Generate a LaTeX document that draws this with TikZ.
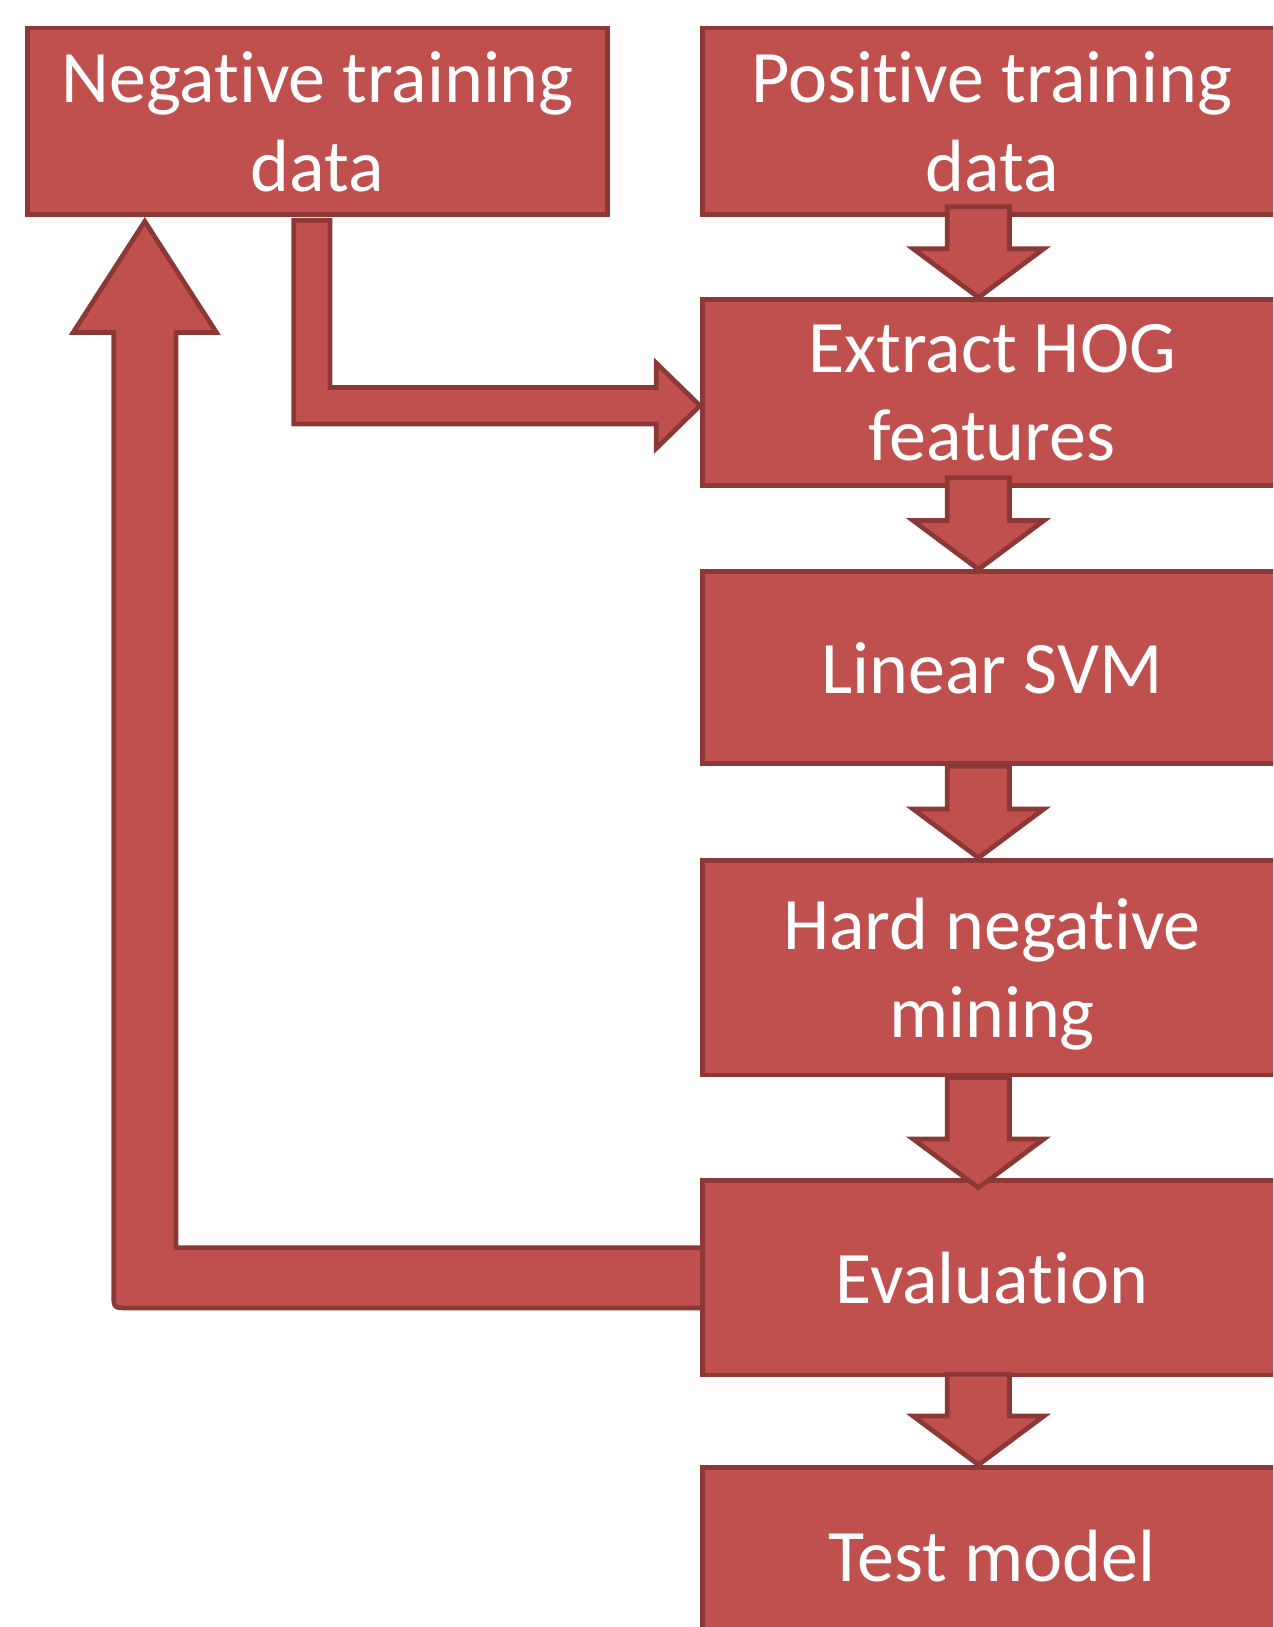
\documentclass[tikz,border=0pt]{standalone}
\usepackage{fontspec}
\setmainfont{Carlito}[Ligatures=NoCommon]
\usetikzlibrary{calc}
\definecolor{boxfill}{HTML}{C0504D}
\definecolor{boxline}{HTML}{8C3836}
\tikzset{
  stagebox/.style={draw=boxline, fill=boxfill, line width=1.3pt, text=white,
    align=center, font=\fontsize{20.3}{24.2}\selectfont, minimum width=5.58cm,
    inner sep=0pt, text depth=0pt},
  blockarrow/.style={draw=boxline, fill=boxfill, line width=1.3pt, line join=miter},
}
\newcommand\blockdown[4]{%
  \coordinate (#1-#2-q) at ($(#1.south)+(-13,-#3)$);
  \coordinate (#1-#2-p) at ($(#2.north)+(-13,#4)$);
  \draw[blockarrow] ($(#1-#2-q)+(-30,0)$) -- ($(#1-#2-q)+(30,0)$)
    -- ($(#1-#2-p)+(30,-47)$) -- ($(#1-#2-p)+(63,-47)$) -- (#1-#2-p)
    -- ($(#1-#2-p)+(-63,-47)$) -- ($(#1-#2-p)+(-30,-47)$) -- cycle;
}
\begin{document}
\begin{tikzpicture}[x=0.01cm, y=-0.01cm]
\useasboundingbox (0,0) rectangle (1227,1568);
\clip (0,0) rectangle (1227,1568);
% boxes
\node[stagebox, minimum height=1.80cm] (neg) at (306,117) {Negative training\\data};
\node[stagebox, minimum height=1.80cm] (pos) at (956,117) {Positive training\\data};
\node[stagebox, minimum height=1.79cm] (hog) at (956,378.5) {Extract HOG\\features};
\node[stagebox, minimum height=1.85cm] (svm) at (956,643.5) {Linear SVM};
\node[stagebox, minimum height=2.07cm] (hard) at (956,932.5) {Hard negative\\mining};
% loop arrow (behind evaluation box)
\coordinate (lt) at ($(neg.south west)+(115,4)$);
\coordinate (lr) at ($(lt)+(30,107)$);
\coordinate (ll) at ($(lt)+(-30,107)$);
\path (956,1231.5) coordinate (evc);
\coordinate (ea) at ($(evc)+(-279,-29)$);
\coordinate (eb) at ($(evc)+(-279,29)$);
\coordinate (lc) at (ll |- eb);
\draw[blockarrow] (ea) -- (lr |- ea) -- (lr) -- ($(lr)+(39,0)$) -- (lt)
  -- ($(ll)+(-39,0)$) -- (ll) -- ($(lc)+(0,-14)$) .. controls (lc) .. ($(lc)+(14,0)$)
  -- (eb) -- cycle;
\node[stagebox, minimum height=1.87cm] (eval) at (evc) {Evaluation};
\node[stagebox, minimum height=1.70cm] (test) at (956,1499) {Test model};
% down arrows
\blockdown{pos}{hog}{10}{0}
\blockdown{hog}{svm}{10}{0}
\blockdown{svm}{hard}{0}{0}
\blockdown{hard}{eval}{0}{9}
\blockdown{eval}{test}{3}{0}
% bent arrow negative -> HOG
\coordinate (v1) at ($(neg.south)+(-23,3)$);
\coordinate (v2) at ($(v1)+(35,0)$);
\coordinate (bh) at ($(hog.west)+(0,12.5)$);
\coordinate (h1) at ($(bh)+(-42,-17.5)$);
\coordinate (h2) at ($(bh)+(-42,17.5)$);
\draw[blockarrow] (v1) -- (v2) -- (v2 |- h1) -- (h1) -- ($(bh)+(-42,-41)$) -- (bh)
  -- ($(bh)+(-42,41)$) -- (h2) -- (v1 |- h2) -- cycle;
\end{tikzpicture}
\end{document}
